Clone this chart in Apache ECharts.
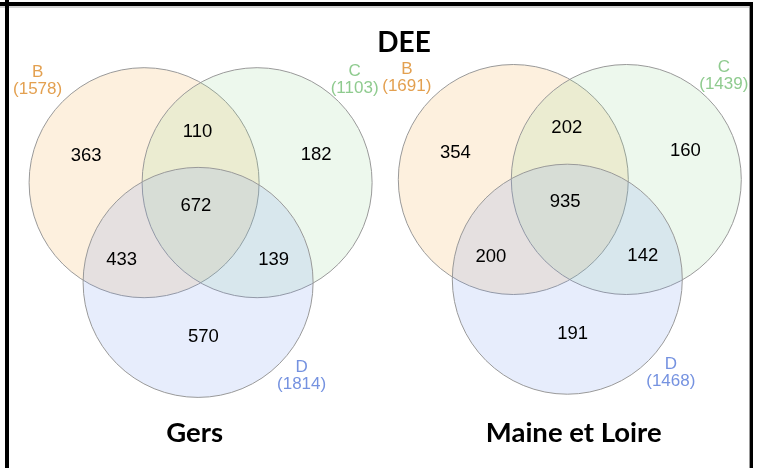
<!DOCTYPE html>
<html>
<head>
<meta charset="utf-8">
<script src="https://cdn.jsdelivr.net/npm/echarts@6/dist/echarts.min.js"></script>
<style>
html,body{margin:0;padding:0;background:#fff;}
#main{width:760px;height:468px;}
</style>
</head>
<body>
<div id="main"></div>
<script>
// donnees
var chartTitle = 'DEE';
var panels = ['Gers', 'Maine et Loire'];
var sets = ['B', 'C', 'D'];
// regions : B seul, B∩C, C seul, B∩C∩D, B∩D, C∩D, D seul
var regions = ['B', 'BC', 'C', 'BCD', 'BD', 'CD', 'D'];
var gersCounts = [363, 110, 182, 672, 433, 139, 570];
var maineCounts = [354, 202, 160, 935, 200, 142, 191];
var gersTotals = [1578, 1103, 1814];
var maineTotals = [1691, 1439, 1468];

// mise en page (pixels)
var panelCenter = [[200.6, 182.7], [569.8, 179.5]];
var panelTitlePos = [[194.7, 433], [573.7, 433.5]];
var radius = 115;
var circleOffset = [[-56.5, 0], [56.5, 0], [-2.5, 99.7]];
var regionOffset = [[-114.4, -26.6], [-3, -51.1], [115.6, -28.1], [-4.7, 22.9], [-78.9, 77.7], [73, 76.9], [2.8, 154.7]];
var setLabelOffset = [[-163, -101.5], [154, -103.2], [101, 193]];
var fillColors = ['rgba(245,170,70,0.18)', 'rgba(140,210,140,0.16)', 'rgba(110,150,240,0.17)'];
var labelColors = ['#E3A050', '#8FCB8F', '#7592E0'];
var FONT = '"Liberation Sans", Arial, sans-serif';

var counts = [gersCounts, maineCounts];
var totals = [gersTotals, maineTotals];

var circleData = [];
var regionData = [];
var setData = [];
for (var p = 0; p < panels.length; p++) {
    var c = panelCenter[p];
    for (var s = 0; s < sets.length; s++) {
        circleData.push([c[0] + circleOffset[s][0], c[1] + circleOffset[s][1], radius, s]);
        setData.push([c[0] + setLabelOffset[s][0], c[1] + setLabelOffset[s][1], totals[p][s], s]);
    }
    for (var k = 0; k < regions.length; k++) {
        regionData.push([c[0] + regionOffset[k][0], c[1] + regionOffset[k][1], counts[p][k]]);
    }
}

var graphics = [
    {type: 'rect', shape: {x: 0, y: 2, width: 753, height: 4}, style: {fill: '#000'}},
    {type: 'rect', shape: {x: 0, y: 6.5, width: 750, height: 1}, style: {fill: '#aaa'}},
    {type: 'rect', shape: {x: 5, y: 0, width: 4, height: 468}, style: {fill: '#000'}},
    {type: 'rect', shape: {x: 749, y: 6, width: 1, height: 462}, style: {fill: '#999'}},
    {type: 'rect', shape: {x: 750, y: 6, width: 3, height: 462}, style: {fill: '#000'}},
    {type: 'text', x: 404, y: 43, style: {text: chartTitle, fontFamily: 'Lato', fontWeight: 'bold', fontSize: 28, fill: '#000', textAlign: 'center', textVerticalAlign: 'middle'}}
];
for (var q = 0; q < panels.length; q++) {
    graphics.push({type: 'text', x: panelTitlePos[q][0], y: panelTitlePos[q][1],
        style: {text: panels[q], fontFamily: 'Lato', fontWeight: 'bold', fontSize: 27.5, fill: '#000', textAlign: 'center', textVerticalAlign: 'middle'}});
}

var myChart = echarts.init(document.getElementById('main'));
var option = {
    animation: false,
    grid: {left: 0, right: 0, top: 0, bottom: 0},
    xAxis: {type: 'value', min: 0, max: 760, show: false},
    yAxis: {type: 'value', min: 0, max: 468, inverse: true, show: false},
    graphic: graphics,
    series: [
        {
            type: 'custom',
            silent: true,
            data: circleData,
            renderItem: function (params, api) {
                var pt = api.coord([api.value(0), api.value(1)]);
                var r = api.size([api.value(2), 0])[0];
                return {
                    type: 'circle',
                    shape: {cx: pt[0], cy: pt[1], r: r},
                    style: {fill: fillColors[api.value(3)], stroke: '#999', lineWidth: 1}
                };
            }
        },
        {
            // effectifs des regions
            type: 'custom',
            silent: true,
            data: regionData,
            renderItem: function (params, api) {
                var pt = api.coord([api.value(0), api.value(1)]);
                return {
                    type: 'text',
                    x: pt[0], y: pt[1],
                    style: {text: String(api.value(2)), fontFamily: FONT, fontSize: 18.5, fill: '#000', align: 'center', verticalAlign: 'middle'}
                };
            }
        },
        {
            // noms des ensembles et totaux
            type: 'custom',
            silent: true,
            data: setData,
            renderItem: function (params, api) {
                var pt = api.coord([api.value(0), api.value(1)]);
                var s = api.value(3);
                return {
                    type: 'text',
                    x: pt[0], y: pt[1],
                    style: {text: sets[s] + '\n(' + api.value(2) + ')', fontFamily: FONT, fontSize: 17, lineHeight: 17,
                        fill: labelColors[s], align: 'center', verticalAlign: 'middle'}
                };
            }
        }
    ]
};
myChart.setOption(option);
window.onresize = myChart.resize;
</script>
</body>
</html>
